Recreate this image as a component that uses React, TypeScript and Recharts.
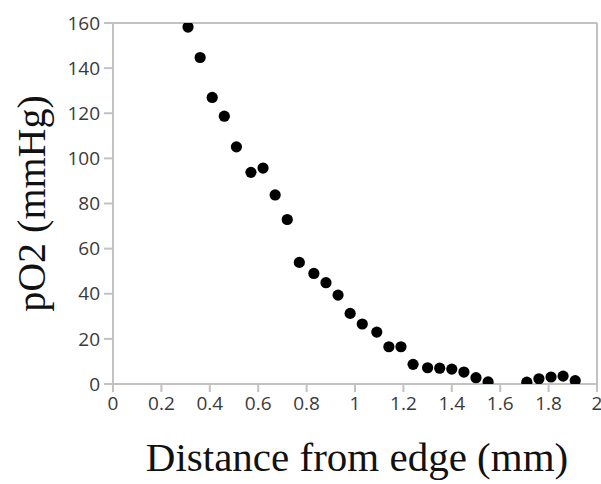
import { Label, ReferenceLine, Scatter, ScatterChart, XAxis, YAxis } from "recharts";

// distance from edge (mm)
const distance = [
  0.31, 0.36, 0.41, 0.46, 0.51, 0.57, 0.62, 0.67, 0.72, 0.77, 0.83, 0.88, 0.93, 0.98, 1.03,
  1.09, 1.14, 1.19, 1.24, 1.3, 1.35, 1.4, 1.45, 1.5, 1.55, 1.71, 1.76, 1.81, 1.86, 1.91,
];
// pO2 (mmHg)
const po2 = [
  158.2, 144.7, 127, 118.7, 105.1, 93.8, 95.7, 83.8, 72.9, 53.9, 49, 44.9, 39.4, 31.3, 26.6,
  23, 16.5, 16.5, 8.7, 7.2, 7, 6.6, 5.3, 2.8, 0.9, 0.8, 2.3, 3.1, 3.5, 1.5,
];
const xTicks = [0, 0.2, 0.4, 0.6, 0.8, 1, 1.2, 1.4, 1.6, 1.8, 2];
const yTicks = [0, 20, 40, 60, 80, 100, 120, 140, 160];

const points = distance.map((d, i) => ({ x: d, y: po2[i] }));

const axisColor = "#c2c2c2";
const tickStyle = { fill: "#3a3a3a", fontSize: 19, fontFamily: "'Open Sans', sans-serif" };
const titleFont = "'Liberation Serif', 'Times New Roman', serif";

const Dot = (props: any) => <circle cx={props.cx} cy={props.cy} r={5.6} fill="#000" />;

const XTitle = (props: any) => {
  const { viewBox } = props;
  const cx = viewBox.x + viewBox.width / 2 + 2;
  return (
    <text x={cx} y={471} textAnchor="middle" fontSize={41} fontFamily={titleFont} fill="#111">
      Distance from edge (mm)
    </text>
  );
};

const YTitle = (props: any) => {
  const { viewBox } = props;
  const cy = viewBox.y + viewBox.height / 2;
  return (
    <text
      transform={`translate(45, ${cy}) rotate(-90)`}
      textAnchor="middle"
      fontSize={40}
      fontFamily={titleFont}
      fill="#111"
    >
      pO2 (mmHg)
    </text>
  );
};

export default function App() {
  return (
    <div style={{ position: "absolute", left: 0, top: 0, background: "#fff" }}>
      <ScatterChart width={601} height={484} margin={{ top: 23, right: 4, bottom: 0, left: 0 }}>
        <XAxis
          type="number"
          dataKey="x"
          domain={[0, 2]}
          ticks={xTicks}
          tickFormatter={(v: number) => String(Number(v.toFixed(1)))}
          height={100}
          stroke={axisColor}
          strokeWidth={2}
          tickSize={8}
          tickMargin={5}
          tick={tickStyle}
          interval={0}
        >
          <Label content={<XTitle />} />
        </XAxis>
        <YAxis
          type="number"
          dataKey="y"
          domain={[0, 160]}
          ticks={yTicks}
          allowDataOverflow
          width={113}
          stroke={axisColor}
          strokeWidth={2}
          tickSize={9}
          tickMargin={4}
          tick={tickStyle}
          interval={0}
        >
          <Label content={<YTitle />} />
        </YAxis>
        <ReferenceLine y={160} stroke={axisColor} strokeWidth={2} />
        <ReferenceLine x={2} stroke={axisColor} strokeWidth={2} />
        <Scatter data={points} shape={<Dot />} isAnimationActive={false} />
      </ScatterChart>
    </div>
  );
}
